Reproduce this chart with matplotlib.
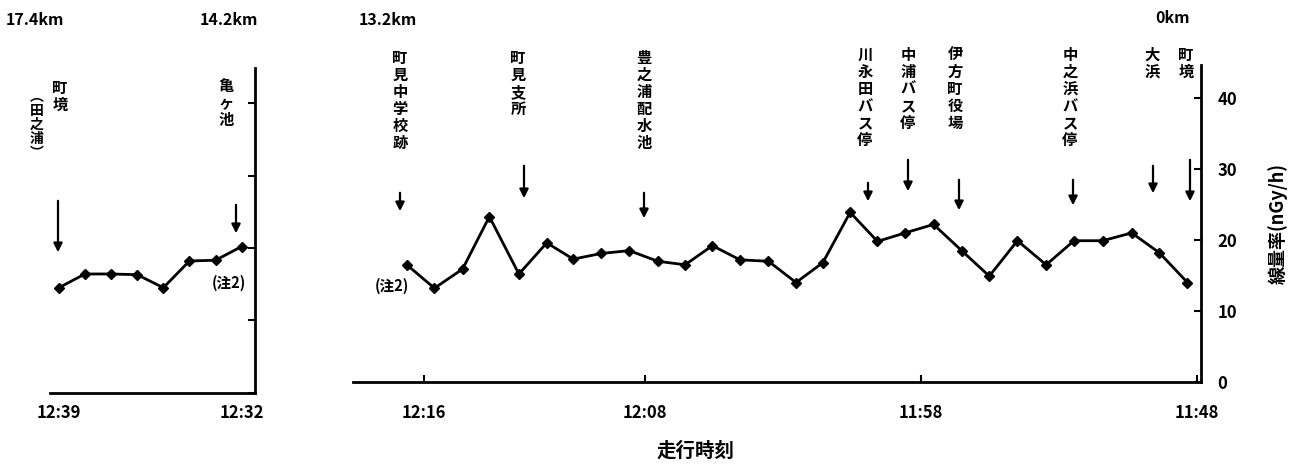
import matplotlib
matplotlib.use("Agg")
import matplotlib.pyplot as plt
from matplotlib.patches import FancyArrowPatch

plt.rcParams['font.family'] = ['Noto Sans CJK JP', 'DejaVu Sans']
plt.rcParams['font.weight'] = 'bold'

# 12:xx の左区間（分, 12時からの経過）
left_min = [39, 38, 37, 36, 35, 34, 33, 32]
left_dose = [14.5, 16.4, 16.4, 16.3, 14.5, 18.2, 18.3, 20.2]
left_ticks = [39, 32]
left_ticklabels = ['12:39', '12:32']

# 右区間（分, 11時からの経過）
right_min = [76.63, 75.63, 74.61, 73.64, 72.57, 71.56, 70.60, 69.59, 68.57, 67.54,
             66.55, 65.56, 64.56, 63.53, 62.53, 61.56, 60.57, 59.58, 58.58, 57.55,
             56.53, 55.53, 54.51, 53.47, 52.46, 51.42, 50.37, 49.37, 48.35]
right_dose = [16.5, 13.2, 15.9, 23.3, 15.2, 19.6, 17.3, 18.1, 18.5, 17.0,
              16.5, 19.2, 17.2, 17.0, 14.0, 16.8, 23.9, 19.8, 21.0, 22.2,
              18.5, 14.9, 19.9, 16.5, 19.9, 19.9, 21.0, 18.2, 14.0]
right_ticks = [76, 68, 58, 48]
right_ticklabels = ['12:16', '12:08', '11:58', '11:48']
y_ticks = [0, 10, 20, 30, 40]

# 地点名: (名前, 文字中心x, 文字上端y, 矢印x, 矢印上端y, 矢印先端y)  図のピクセル座標
places = [
    ('町境', 60, 80, 58, 198, 255),
    ('亀ヶ池', 226, 78, 236, 202, 236),
    ('町見中学校跡', 400, 50, 400, 190, 214),
    ('町見支所', 518, 50, 524, 163, 201),
    ('豊之浦配水池', 644, 50, 644, 190, 221),
    ('川永田バス停', 865, 47, 868, 180, 204),
    ('中浦バス停', 908, 47, 908, 157, 194),
    ('伊方町役場', 955, 47, 959, 177, 213),
    ('中之浜バス停', 1070, 47, 1073, 177, 208),
    ('大浜', 1152, 47, 1153, 163, 196),
    ('町境', 1186, 47, 1190, 157, 204),
]
km_labels = [('17.4km', 35, 20), ('14.2km', 229, 20), ('13.2km', 388, 20), ('0km', 1172, 18)]

W, H = 1292, 465


def fx(x):
    return x / W


def fy(y):
    return 1 - y / H


fig = plt.figure(figsize=(W / 100, H / 100), dpi=100)
ax1 = fig.add_axes([fx(50), fy(392.5), fx(255) - fx(50), fy(68) - fy(392.5)])
ax2 = fig.add_axes([fx(353), fy(381.7), fx(1201) - fx(353), fy(65) - fy(381.7)])

for ax in (ax1, ax2):
    ax.spines['top'].set_visible(False)
    ax.spines['left'].set_visible(False)
    ax.spines['bottom'].set_linewidth(2)
    ax.spines['right'].set_linewidth(2)
    ax.yaxis.tick_right()
    ax.tick_params(direction='in', length=5, width=1.5, labelsize=12)
    ax.set_yticks(y_ticks)

ax1.plot(left_min, left_dose, color='k', lw=2, marker='D', ms=5.5)
ax1.set_xlim(39.34, 31.49)
ax1.set_ylim(0, 44.9)
ax1.set_xticks(left_ticks)
ax1.set_xticklabels(left_ticklabels, fontweight='bold')
ax1.tick_params(axis='x', pad=8, length=0)
ax1.tick_params(axis='y', labelright=False)

ax2.plot(right_min, right_dose, color='k', lw=2, marker='D', ms=5.5)
ax2.set_xlim(78.58, 47.86)
ax2.set_ylim(0, 44.7)
ax2.set_xticks(right_ticks)
ax2.set_xticklabels(right_ticklabels, fontweight='bold')
ax2.tick_params(axis='x', pad=16)
ax2.tick_params(axis='y', pad=12)
ax2.set_yticklabels([str(v) for v in y_ticks], fontweight='bold')
ax2.yaxis.set_label_position('right')
ax2.set_ylabel('線量率(nGy/h)', fontsize=13, fontweight='bold', labelpad=22)

fig.text(fx(696), fy(451), '走行時刻', ha='center', va='center', fontsize=14, fontweight='bold')

for name, tx, ty, axx, ay0, ay1 in places:
    fig.text(fx(tx), fy(ty), '\n'.join(name), ha='center', va='top',
             fontsize=11, fontweight='bold', linespacing=1.08)
    fig.patches.append(FancyArrowPatch((fx(axx), fy(ay0)), (fx(axx), fy(ay1)),
                                       transform=fig.transFigure, arrowstyle='-|>',
                                       mutation_scale=13, lw=1.6, color='k'))

fig.text(fx(37), fy(90), '\n'.join('︵田之浦︶'), ha='center', va='top',
         fontsize=10, fontweight='bold', linespacing=1.0)
fig.text(fx(229), fy(283), '(注2)', ha='center', va='center', fontsize=10.5, fontweight='bold')
fig.text(fx(392), fy(286), '(注2)', ha='center', va='center', fontsize=10.5, fontweight='bold')

for txt, x, y in km_labels:
    fig.text(fx(x), fy(y), txt, ha='center', va='center', fontsize=11.5, fontweight='bold')

fig.savefig('out.png', dpi=100)
